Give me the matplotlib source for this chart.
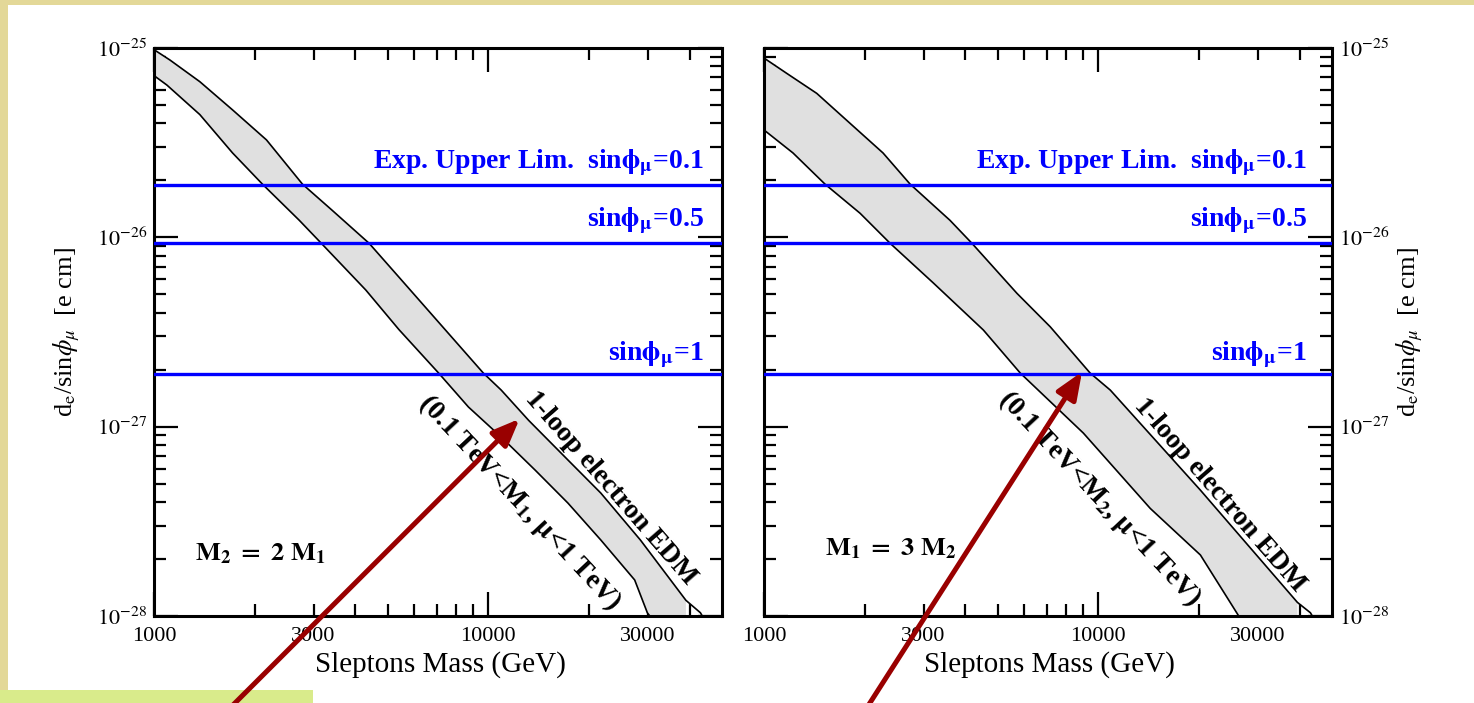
import numpy as np
import matplotlib
matplotlib.use("Agg")
import matplotlib.pyplot as plt
from matplotlib.patches import Rectangle
from matplotlib.ticker import FixedLocator, FuncFormatter, NullFormatter
import matplotlib.transforms as mtransforms

plt.rcParams['font.family'] = ['Liberation Serif', 'DejaVu Serif']
plt.rcParams['mathtext.fontset'] = 'stix'

# ---------------- data ----------------
mass_limits = (1000, 50000)
de_limits = (1e-28, 1e-25)

x_major_ticks = [1000, 10000]
x_minor_ticks = [2000, 3000, 4000, 5000, 6000, 7000, 8000, 9000,
                 20000, 30000, 40000]
x_labelled_minor = [3000, 30000]
y_major_ticks = [1e-28, 1e-27, 1e-26, 1e-25]
y_minor_mult = [2, 3, 4, 5, 6, 7, 8, 9]

limit_values = [1.9e-26, 9.3e-27, 1.9e-27]
limit_labels_math = [r"Exp. Upper Lim.  sin$\mathbf{\phi}_\mathbf{\mu}$=0.1",
                     r"sin$\mathbf{\phi}_\mathbf{\mu}$=0.5",
                     r"sin$\mathbf{\phi}_\mathbf{\mu}$=1"]

# left panel (M2 = 2 M1)
left_upper_mass = [1000, 1116, 1371, 1718, 2170, 2780, 3410, 4400, 5400, 9660,
                   10930, 13200, 17300, 21700, 28500, 39000, 43100, 46000]
left_upper_de = [9.8e-26, 8.64e-26, 6.64e-26, 4.71e-26, 3.27e-26, 1.91e-26, 1.39e-26,
                 9.3e-27, 6.17e-27, 1.92e-27, 1.56e-27, 1.08e-27, 6.67e-28, 4.46e-28,
                 2.52e-28, 1.21e-28, 1.04e-28, 8.5e-29]
left_lower_mass = [1000, 1093, 1371, 1718, 2110, 2720, 3160, 4300, 5400, 7100, 8720,
                   10930, 13800, 17300, 21700, 27400, 29900, 39000]
left_lower_de = [7.15e-26, 6.37e-26, 4.45e-26, 2.79e-26, 1.91e-26, 1.23e-26, 9.33e-27,
                 5.27e-27, 3.26e-27, 1.92e-27, 1.27e-27, 8.81e-28, 5.90e-28, 3.95e-28,
                 2.52e-28, 1.55e-28, 1.04e-28, 5.6e-29]
left_band_end = 39000

# right panel (M1 = 3 M2)
right_upper_mass = [1000, 1169, 1438, 1809, 2270, 2735, 3600, 4190, 5710, 7180, 9450,
                    10860, 20200, 39400, 43100, 46000]
right_upper_de = [8.85e-26, 7.35e-26, 5.76e-26, 4.0e-26, 2.79e-26, 1.91e-26, 1.23e-26,
                  9.29e-27, 5.06e-27, 3.37e-27, 1.92e-27, 1.56e-27, 4.62e-28, 1.18e-28,
                  1.04e-28, 8.5e-29]
right_lower_mass = [1000, 1221, 1522, 1938, 2385, 3210, 4530, 5840, 9020, 14300, 20200,
                    26300, 39400]
right_lower_de = [3.69e-26, 2.79e-26, 1.91e-26, 1.34e-26, 9.29e-27, 5.74e-27, 3.24e-27,
                  1.92e-27, 9.25e-28, 3.7e-28, 2.1e-28, 1.0e-28, 3.9e-29]
right_band_end = 39400

left_arrow_tip = (12400, 1.1e-27)
right_arrow_tip = (8940, 1.95e-27)

# ---------------- figure ----------------
W, H = 1474, 703
fig = plt.figure(figsize=(W / 100, H / 100), dpi=100)
fig.patch.set_facecolor('white')

beige = '#E3D898'
fig.add_artist(Rectangle((0, 1 - 5 / H), 1, 5 / H, transform=fig.transFigure,
                         facecolor=beige, edgecolor='none', zorder=-10))
fig.add_artist(Rectangle((0, 13 / H), 8 / W, 1 - 13 / H, transform=fig.transFigure,
                         facecolor=beige, edgecolor='none', zorder=-10))
fig.add_artist(Rectangle((0, 0), 313 / W, 13 / H, transform=fig.transFigure,
                         facecolor='#D9EB8B', edgecolor='none', zorder=-10))

ax1 = fig.add_axes([154 / W, 87 / H, 568 / W, 568 / H])
ax2 = fig.add_axes([764 / W, 87 / H, 568 / W, 568 / H])

ylabel_text = r"d$_{\rm e}$/sin$\phi_{\mu}$  [e cm]"

y_minor_ticks = [m * d for d in y_major_ticks[:-1] for m in y_minor_mult]


def x_major_fmt(v, p):
    return "%d" % int(round(v))


def x_minor_fmt(v, p):
    for m in x_labelled_minor:
        if abs(v - m) < 1:
            return "%d" % m
    return ""


def y_fmt(v, p):
    return r"$10^{%d}$" % int(round(np.log10(v)))


def setup(ax, side):
    ax.set_xscale('log')
    ax.set_yscale('log')
    ax.set_xlim(*mass_limits)
    ax.set_ylim(*de_limits)
    ax.set_axisbelow(True)
    ax.xaxis.set_major_locator(FixedLocator(x_major_ticks))
    ax.xaxis.set_minor_locator(FixedLocator(x_minor_ticks))
    ax.xaxis.set_major_formatter(FuncFormatter(x_major_fmt))
    ax.xaxis.set_minor_formatter(FuncFormatter(x_minor_fmt))
    ax.yaxis.set_major_locator(FixedLocator(y_major_ticks))
    ax.yaxis.set_minor_locator(FixedLocator(y_minor_ticks))
    ax.yaxis.set_major_formatter(FuncFormatter(y_fmt))
    ax.yaxis.set_minor_formatter(NullFormatter())
    ax.tick_params(which='both', direction='in', top=True, bottom=True, left=True,
                   right=True, width=1.6, color='black', labelsize=16)
    ax.tick_params(which='major', length=17)
    ax.tick_params(which='minor', length=8.5)
    ax.tick_params(axis='x', which='both', pad=8)
    ax.tick_params(axis='y', which='both', pad=5)
    for s in ax.spines.values():
        s.set_linewidth(2.2)
    ax.set_xlabel("Sleptons Mass (GeV)", fontsize=21)
    if side == 'left':
        ax.tick_params(axis='y', which='both', labelleft=True, labelright=False)
        ax.set_ylabel(ylabel_text, fontsize=19)
        ax.yaxis.label.set_va('center')
        ax.yaxis.set_label_coords(-0.153, 0.5)
        ax.xaxis.set_label_coords(0.5035, -0.062)
    else:
        ax.tick_params(axis='y', which='both', labelleft=False, labelright=True)
        ax.yaxis.set_label_position('right')
        ax.set_ylabel(ylabel_text, fontsize=19, rotation=90)
        ax.yaxis.label.set_va('center')
        ax.yaxis.set_label_coords(1.137, 0.5)
        ax.xaxis.set_label_coords(0.502, -0.062)


def draw_band(ax, um, ud, lm, ld, band_end):
    um = np.array(um); ud = np.array(ud); lm = np.array(lm); ld = np.array(ld)
    keep = um <= band_end
    px = np.concatenate([um[keep], lm[::-1]])
    py = np.concatenate([ud[keep], ld[::-1]])
    ax.fill(px, py, facecolor='#E0E0E0', edgecolor='none', zorder=1)
    ax.plot(um, ud, color='black', lw=1.2, zorder=2)
    ax.plot(lm, ld, color='black', lw=1.2, zorder=2)


def draw_limits(ax, xfrac, offsets):
    trans = mtransforms.blended_transform_factory(ax.transAxes, ax.transData)
    for val, lab, off in zip(limit_values, limit_labels_math, offsets):
        ax.axhline(val, color='#0000FF', lw=2.4, zorder=3)
        ax.annotate(lab, xy=(xfrac, val), xycoords=trans, xytext=(0, off),
                    textcoords='offset points', ha='right', va='baseline',
                    color='#0000FF', fontsize=20, fontweight='bold', zorder=4)


setup(ax1, 'left')
setup(ax2, 'right')

draw_band(ax1, left_upper_mass, left_upper_de, left_lower_mass, left_lower_de, left_band_end)
draw_band(ax2, right_upper_mass, right_upper_de, right_lower_mass, right_lower_de, right_band_end)

draw_limits(ax1, 0.968, [11.5, 12, 9.5])
draw_limits(ax2, 0.956, [11.5, 12, 9.5])

# panel labels
ax1.text(0.072, 0.0986, r"$\mathbf{M_2\ =\ 2\ M_1}$", transform=ax1.transAxes,
         fontsize=19, ha='left', va='baseline')
ax2.text(0.107, 0.107, r"$\mathbf{M_1\ =\ 3\ M_2}$", transform=ax2.transAxes,
         fontsize=19, ha='left', va='baseline')

# rotated band annotations
ax1.text(0.8046, 0.2254, "1-loop electron EDM", transform=ax1.transAxes, rotation=-49,
         rotation_mode='anchor', ha='center', va='center', fontsize=20, fontweight='bold')
ax1.text(0.6444, 0.2007, r"(0.1 TeV<M$_\mathbf{1}$, $\mathbf{\mu}$<1 TeV)",
         transform=ax1.transAxes, rotation=-47, rotation_mode='anchor',
         ha='center', va='center', fontsize=20, fontweight='bold')
ax2.text(0.8028, 0.2130, "1-loop electron EDM", transform=ax2.transAxes, rotation=-49,
         rotation_mode='anchor', ha='center', va='center', fontsize=20, fontweight='bold')
ax2.text(0.5915, 0.2077, r"(0.1 TeV<M$_\mathbf{2}$, $\mathbf{\mu}$<1 TeV)",
         transform=ax2.transAxes, rotation=-47, rotation_mode='anchor',
         ha='center', va='center', fontsize=20, fontweight='bold')

# arrows
arrow_kw = dict(arrowstyle='-|>,head_length=1.1,head_width=0.45', color='#990000',
                lw=3.6, mutation_scale=15, shrinkA=0, shrinkB=0)
ax1.annotate('', xy=left_arrow_tip, xycoords='data', xytext=(218 / W, -17 / H),
             textcoords='figure fraction', arrowprops=arrow_kw, annotation_clip=False,
             zorder=10)
ax2.annotate('', xy=right_arrow_tip, xycoords='data', xytext=(859 / W, -17 / H),
             textcoords='figure fraction', arrowprops=arrow_kw, annotation_clip=False,
             zorder=10)

fig.savefig('out.png', dpi=100, facecolor=fig.get_facecolor())
